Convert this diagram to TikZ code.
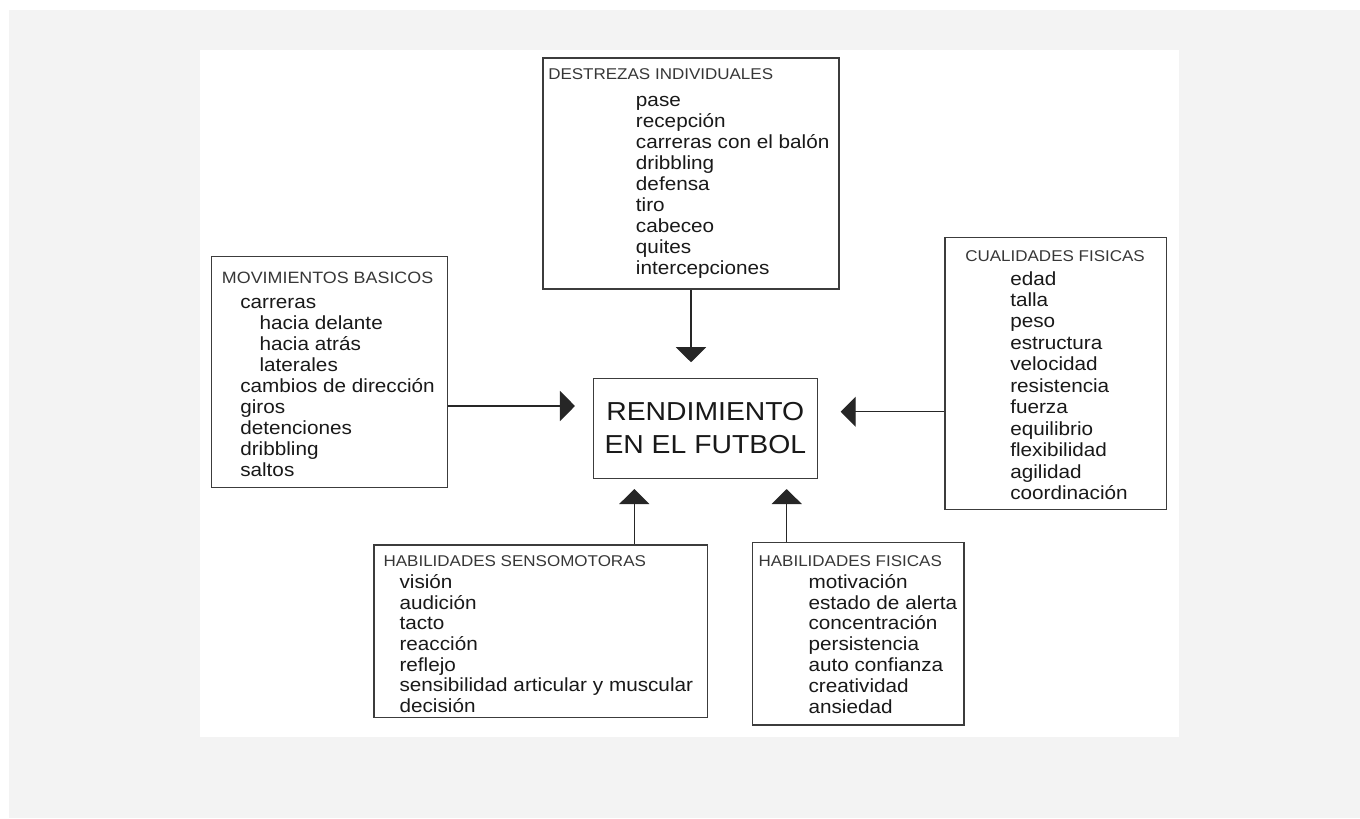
\documentclass[tikz,border=0pt]{standalone}
\usepackage{fontspec}
\setmainfont{Liberation Sans}[FakeStretch=1.09]
\usetikzlibrary{arrows.meta}
\definecolor{bgc}{RGB}{243,243,243}
\definecolor{bord}{RGB}{60,60,60}
\definecolor{txt}{RGB}{25,25,25}
\definecolor{ttlc}{RGB}{55,55,55}
\begin{document}
\begin{tikzpicture}[x=0.75pt,y=-0.75pt,
  box/.style={draw=bord, line width=1.1pt, fill=white, inner sep=0pt, rectangle},
  ttl/.style={anchor=base west, inner sep=0pt, text=ttlc, font=\fontsize{11.7}{14}\selectfont},
  lst/.style={anchor=base west, inner sep=0pt, text=txt},
  arr/.style={draw=black!85, line width=1pt, -{Triangle[length=11.25pt,width=22.5pt]}},
]
\useasboundingbox (0,0) rectangle (1360,818);
\fill[white] (0,0) rectangle (1360,818);
\fill[bgc] (9,10) rectangle (1360,818);
\fill[white] (200,50) rectangle (1179,737);

% boxes
\node[box, minimum width=222pt, minimum height=173.25pt] (dest) at (691,173.5) {};
\node[box, minimum width=176.7pt, minimum height=172.95pt] (mov) at (329.5,372) {};
\node[box, minimum width=168pt, minimum height=75pt, align=center, text=txt,
      font=\fontsize{19.5}{24.75}\selectfont] (rend) at (705.3,428.3) {RENDIMIENTO\\EN EL FUTBOL};
\node[box, minimum width=166.3pt, minimum height=204pt] (cual) at (1055.85,373.3) {};
\node[box, minimum width=250.3pt, minimum height=129.2pt] (sens) at (540.85,631.15) {};
\node[box, minimum width=158.5pt, minimum height=136.7pt] (hf) at (858.35,633.85) {};

% DESTREZAS INDIVIDUALES
\node[ttl] (destT) at (548,79) {DESTREZAS INDIVIDUALES};
\node[lst, font=\fontsize{14.25}{15.75}\selectfont] (destL) at (635.7,106.7)
  {\begin{tabular}[t]{@{}l@{}}pase\\recepción\\carreras con el balón\\dribbling\\defensa\\tiro\\cabeceo\\quites\\intercepciones\end{tabular}};

% MOVIMIENTOS BASICOS
\node[ttl, font=\fontsize{12.3}{14}\selectfont] (movT) at (221.7,283.3) {MOVIMIENTOS BASICOS};
\node[lst, font=\fontsize{14.25}{15.75}\selectfont] (movL) at (240,308.3)
  {\begin{tabular}[t]{@{}l@{}}carreras\\\hspace*{14.5pt}hacia delante\\\hspace*{14.5pt}hacia atrás\\\hspace*{14.5pt}laterales\\cambios de dirección\\giros\\detenciones\\dribbling\\saltos\end{tabular}};

% CUALIDADES FISICAS
\node[ttl] (cualT) at (965,261.7) {CUALIDADES FISICAS};
\node[lst, font=\fontsize{14.25}{16.1}\selectfont] (cualL) at (1010,285)
  {\begin{tabular}[t]{@{}l@{}}edad\\talla\\peso\\estructura\\velocidad\\resistencia\\fuerza\\equilibrio\\flexibilidad\\agilidad\\coordinación\end{tabular}};

% HABILIDADES SENSOMOTORAS
\node[ttl] (sensT) at (383.3,566) {HABILIDADES SENSOMOTORAS};
\node[lst, font=\fontsize{14.25}{15.55}\selectfont] (sensL) at (399.3,588.3)
  {\begin{tabular}[t]{@{}l@{}}visión\\audición\\tacto\\reacción\\reflejo\\sensibilidad articular y muscular\\decisión\end{tabular}};

% HABILIDADES FISICAS
\node[ttl] (hfT) at (758.3,566) {HABILIDADES FISICAS};
\node[lst, font=\fontsize{14.25}{15.6}\selectfont] (hfL) at (808.3,588.3)
  {\begin{tabular}[t]{@{}l@{}}motivación\\estado de alerta\\concentración\\persistencia\\auto confianza\\creatividad\\ansiedad\end{tabular}};

% connector guide coordinates
\coordinate (yl) at (0,406);
\coordinate (yr) at (0,411.7);
\coordinate (xl) at (634.3,0);
\coordinate (xr) at (786.7,0);

% connectors
\draw[arr, shorten >=11.5pt] (dest.south) -- (dest.south |- rend.north);
\draw[arr, shorten >=13.2pt] (mov.east |- yl) -- (rend.west |- yl);
\draw[arr, shorten >=17pt] (cual.west |- yr) -- (rend.east |- yr);
\draw[arr, shorten >=7.5pt] (sens.north -| xl) -- (rend.south -| xl);
\draw[arr, shorten >=7.5pt] (hf.north -| xr) -- (rend.south -| xr);
\end{tikzpicture}
\end{document}
